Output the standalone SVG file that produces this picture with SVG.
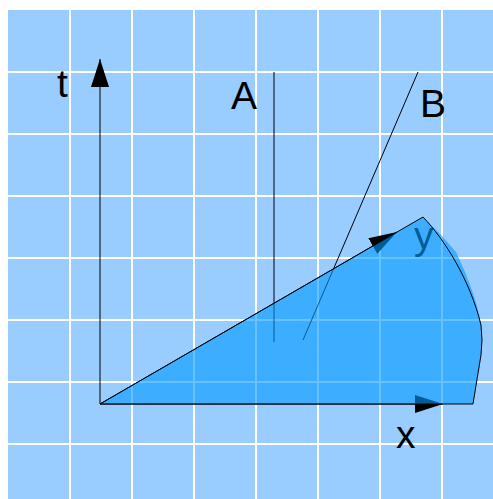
<svg xmlns="http://www.w3.org/2000/svg" width="493" height="499" viewBox="0 0 493 499">
<style>
.grid line{stroke:#ffffff;stroke-width:2}
.ln{stroke:#000;stroke-width:1;fill:none}
.lbl{font-family:"Liberation Sans",Arial,sans-serif;font-size:39px;fill:#000}
</style>
<defs>
<marker id="ah" markerUnits="userSpaceOnUse" viewBox="0 0 28 18" markerWidth="28" markerHeight="18" refX="28" refY="9" orient="auto">
<path d="M0,0 L28,9 L0,18 Z" fill="#000"/>
</marker>
</defs>
<rect x="8" y="10" width="485" height="489" fill="#99ccff"/>
<g id="grid" class="grid">
<line x1="70" y1="10" x2="70" y2="499"/>
<line x1="132" y1="10" x2="132" y2="499"/>
<line x1="194" y1="10" x2="194" y2="499"/>
<line x1="256" y1="10" x2="256" y2="499"/>
<line x1="318" y1="10" x2="318" y2="499"/>
<line x1="380" y1="10" x2="380" y2="499"/>
<line x1="442" y1="10" x2="442" y2="499"/>
<line x1="8" y1="72" x2="493" y2="72"/>
<line x1="8" y1="134" x2="493" y2="134"/>
<line x1="8" y1="196" x2="493" y2="196"/>
<line x1="8" y1="258" x2="493" y2="258"/>
<line x1="8" y1="320" x2="493" y2="320"/>
<line x1="8" y1="382" x2="493" y2="382"/>
<line x1="8" y1="444" x2="493" y2="444"/>
</g>
<g id="connectors">
<path class="ln" d="M100,404 V59" marker-end="url(#ah)"/>
<path class="ln" d="M100,404 H443" marker-end="url(#ah)"/>
<path class="ln" d="M100,404 L397,232" marker-end="url(#ah)"/>
<path id="lineA" class="ln" d="M274,72 V342"/>
<path id="lineB" class="ln" d="M418,72 L303,340"/>
</g>
<g id="labels">
<text id="label-t" class="lbl" x="57" y="97">t</text>
<text id="label-A" class="lbl" x="231" y="109">A</text>
<text id="label-B" class="lbl" x="420" y="117">B</text>
<text id="label-x" class="lbl" x="396" y="448">x</text>
<text id="label-y" class="lbl" x="414" y="249">y</text>
</g>
<g id="region">
<path d="M100,404 L423,217 L442,236 L456,252 L465,272 C472,290 478,305 481,325 Q483,340 481,355 L473,404 Z" fill="#0099ff" fill-opacity="0.6"/>
<path class="ln" d="M100,404 L423,217 C445,240 470,280 481,325 Q483,340 481,355 L473,404 Z"/>
</g>
</svg>
